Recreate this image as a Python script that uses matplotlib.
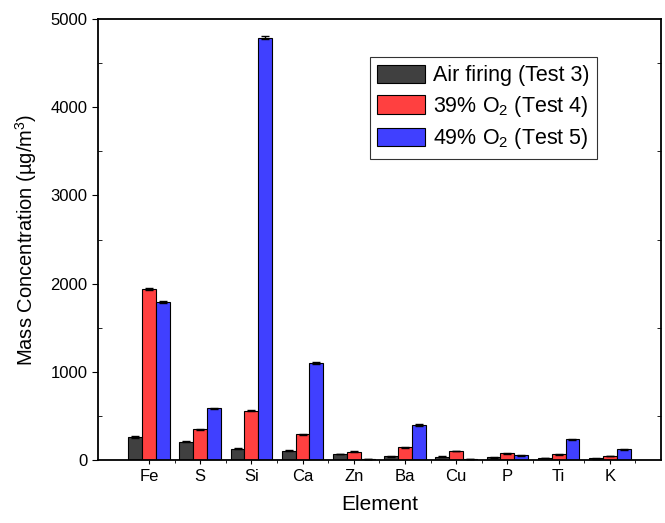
import matplotlib.pyplot as plt
import numpy as np

elements = ["Fe", "S", "Si", "Ca", "Zn", "Ba", "Cu", "P", "Ti", "K"]
air_test3 = [262, 207, 128, 105, 68, 42, 38, 30, 23, 19]
o2_39_test4 = [1935, 348, 559, 291, 94, 144, 102, 76, 64, 45]
o2_49_test5 = [1790, 586, 4790, 1100, 10, 397, 10, 53, 234, 121]
err_test3 = [8, 6, 5, 5, 4, 3, 3, 3, 3, 3]
err_test4 = [12, 8, 8, 6, 4, 5, 4, 4, 4, 3]
err_test5 = [12, 8, 20, 10, 2, 6, 2, 3, 5, 4]

labels = ["Air firing (Test 3)", "39% O$_2$ (Test 4)", "49% O$_2$ (Test 5)"]
colors = ["#404040", "#FF4040", "#4040FF"]

plt.rcParams["font.family"] = ["Liberation Sans", "DejaVu Sans"]
plt.rcParams["mathtext.fontset"] = "custom"
plt.rcParams["mathtext.rm"] = "Liberation Sans"

fig = plt.figure(figsize=(6.65, 5.23), dpi=100)
ax = fig.add_axes([0.147, 0.1205, 0.847, 0.843])

x = np.arange(1, len(elements) + 1)
w = 0.27
for i, (vals, errs) in enumerate(zip([air_test3, o2_39_test4, o2_49_test5],
                                     [err_test3, err_test4, err_test5])):
    ax.bar(x + (i - 1) * w, vals, w, color=colors[i], edgecolor="black",
           linewidth=0.8, label=labels[i],
           yerr=errs, capsize=3,
           error_kw=dict(ecolor="black", elinewidth=1, capthick=1))

ax.set_xlim(0, 11)
ax.set_ylim(0, 5000)
ax.set_xticks(x)
ax.set_xticklabels(elements, fontsize=12)
ax.set_xticks(x + 0.5, minor=True)
ax.set_yticks(np.arange(0, 5001, 1000))
ax.set_yticks(np.arange(500, 5000, 1000), minor=True)
ax.tick_params(axis="y", which="major", direction="out", length=4, labelsize=12)
ax.tick_params(axis="y", which="minor", direction="in", length=3, right=True)
ax.tick_params(axis="x", which="major", direction="out", length=3, labelsize=12)
ax.tick_params(axis="x", which="minor", direction="out", length=2)
for s in ax.spines.values():
    s.set_linewidth(1.3)

ax.set_xlabel("Element", fontsize=15, labelpad=8)
ax.set_ylabel("Mass Concentration (\u00b5g/m$^3$)", fontsize=14.5, labelpad=8)

leg = ax.legend(loc="upper left", bbox_to_anchor=(0.483, 0.914), fontsize=15.5,
                frameon=True, fancybox=False, edgecolor="black",
                handlelength=2.2, handleheight=0.95, labelspacing=0.35,
                handletextpad=0.4, borderpad=0.35, borderaxespad=0)
leg.get_frame().set_linewidth(0.8)

fig.savefig("out.png", dpi=100)
